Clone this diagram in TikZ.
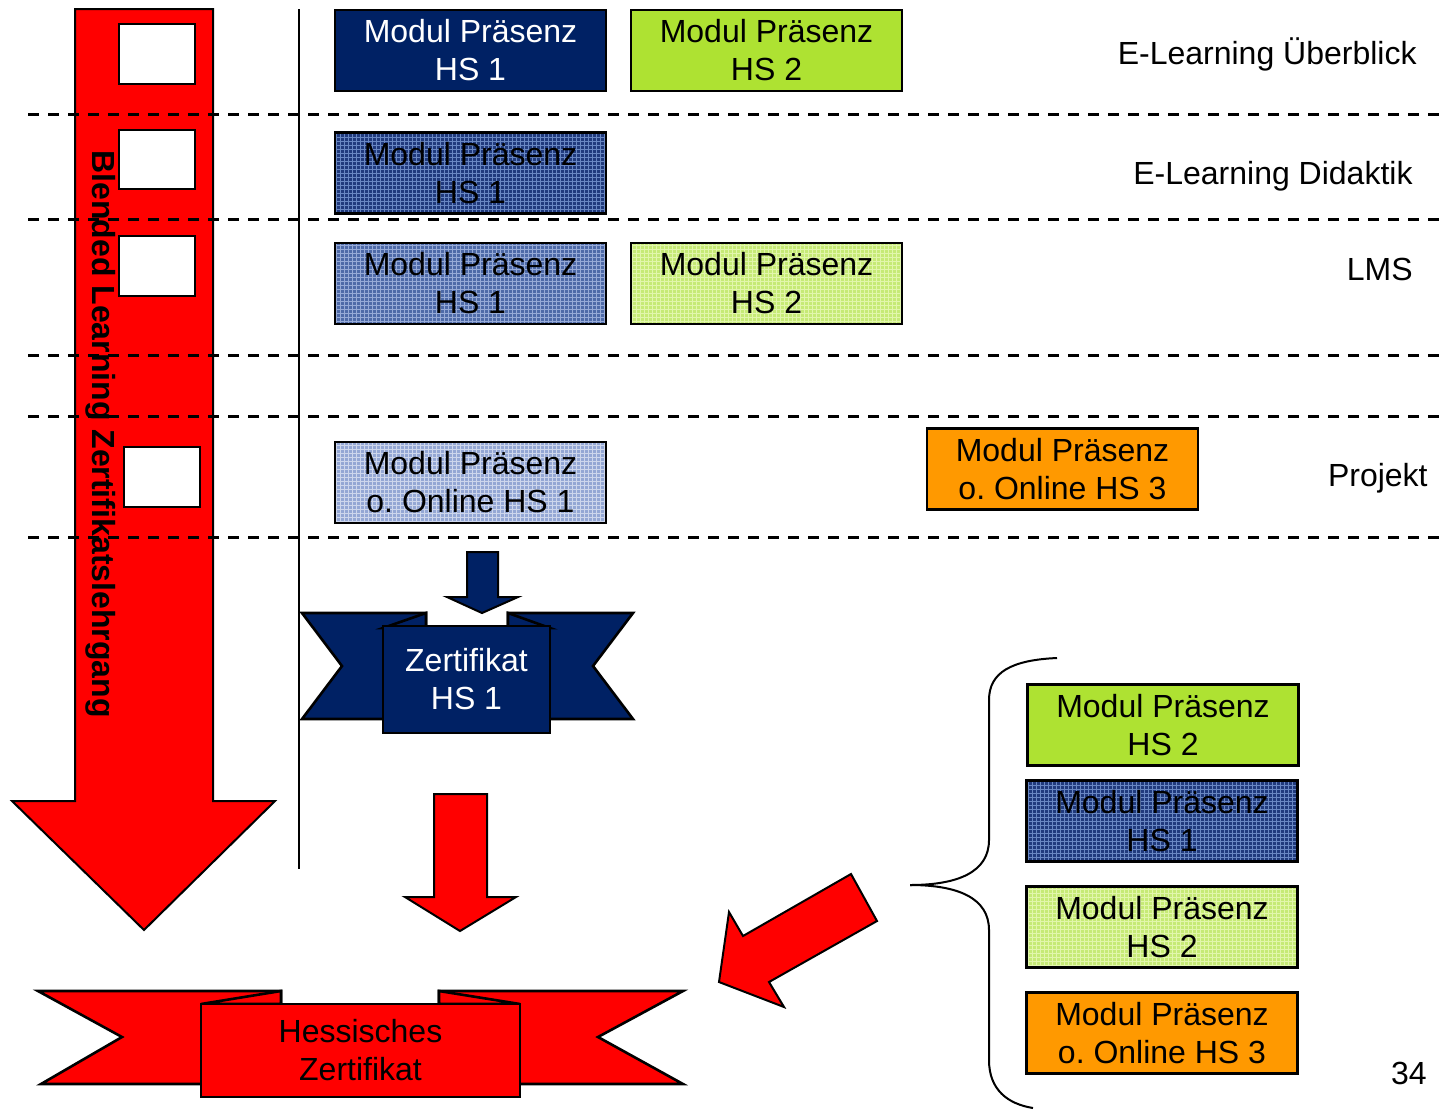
\documentclass[tikz,border=0pt]{standalone}
\usepackage{fontspec}
\setmainfont{Liberation Sans}
\usetikzlibrary{patterns.meta}
\frenchspacing
\definecolor{navy}{RGB}{0,33,100}
\definecolor{lime}{RGB}{174,226,50}
\definecolor{orng}{RGB}{255,153,0}
\definecolor{rd}{RGB}{255,0,0}
\definecolor{cbase}{RGB}{32,58,125}
\definecolor{cline}{RGB}{105,135,195}
\definecolor{dbase}{RGB}{78,106,168}
\definecolor{dline}{RGB}{150,170,215}
\definecolor{ebase}{RGB}{198,234,118}
\definecolor{eline}{RGB}{226,246,172}
\definecolor{fbase}{RGB}{148,167,212}
\definecolor{fline}{RGB}{205,214,236}
\tikzset{
  modbox/.style={draw=black, line width=1.1pt, minimum width=135.5pt, minimum height=40.5pt,
    inner sep=0pt, align=center, font=\fontsize{16}{19}\selectfont\frenchspacing},
  pat/.style 2 args={preaction={fill=#1}, pattern={Hatch[angle=0,distance=2pt,line width=0.45pt]}, pattern color=#2},
  lbl/.style={anchor=east, inner sep=0pt, font=\fontsize{16}{19}\selectfont},
  shp/.style={draw=black, line width=1pt, line join=miter},
  sep/.style={draw=black, line width=1.5pt, dash pattern=on 5.5pt off 4.5pt},
}
\begin{document}
\begin{tikzpicture}[x=0.5pt,y=-0.5pt]
\useasboundingbox (0,0) rectangle (1439,1109);
% big red arrow
\draw[shp, fill=rd] (75,9) -- (213,9) -- (213,801) -- (275,801) -- (144,930) -- (12,801) -- (75,801) -- cycle;
\node[rotate=-90, inner sep=0pt, font=\fontsize{16}{19}\selectfont\bfseries] (bl) at (101,434) {Blended Learning Zertifikatslehrgang};
% white boxes
\draw[shp, fill=white] (119,24) rectangle (195,84);
\draw[shp, fill=white] (119,130) rectangle (195,189);
\draw[shp, fill=white] (119,236) rectangle (195,296);
\draw[shp, fill=white] (124,447) rectangle (200,507);
% dashed separators
\foreach \yy in {114,219,355,416,537} {
  \draw[sep] (28,\yy) -- (1439,\yy);
}
% vertical line
\coordinate (vt) at (299,9);
\coordinate (vb) at (299,869);
\draw[line width=1pt] (vt) -- (vb);
% module boxes
\node[modbox, fill=navy, text=white] (a) at (470.5,50.5) {Modul Präsenz\\HS 1};
\node[modbox, fill=lime] (b) at (766.5,50.5) {Modul Präsenz\\HS 2};
\node[modbox, pat={cbase}{cline}] (c) at (470.5,173) {Modul Präsenz\\HS 1};
\node[modbox, pat={dbase}{dline}] (d) at (470.5,283.5) {Modul Präsenz\\HS 1};
\node[modbox, pat={ebase}{eline}] (e) at (766.5,283.5) {Modul Präsenz\\HS 2};
\node[modbox, pat={fbase}{fline}] (f) at (470.5,482.5) {Modul Präsenz\\o. Online HS 1};
\node[modbox, fill=orng] (g) at (1062.5,469) {Modul Präsenz\\o. Online HS 3};
\node[modbox, fill=lime] (h) at (1163,725) {Modul Präsenz\\HS 2};
\node[modbox, pat={cbase}{cline}] (i) at (1162,821) {Modul Präsenz\\HS 1};
\node[modbox, pat={ebase}{eline}] (j) at (1162,927) {Modul Präsenz\\HS 2};
\node[modbox, fill=orng] (k) at (1162,1033) {Modul Präsenz\\o. Online HS 3};
% row labels
\node[lbl] (l1) at (1417,54) {E-Learning Überblick};
\node[lbl] (l2) at (1413,176) {E-Learning Didaktik};
\node[lbl] (l3) at (1413,269) {LMS};
\node[lbl] (l4) at (1428,478) {Projekt};
\node[lbl] (pg) at (1427,1073) {34};
% navy arrow
\draw[shp, fill=navy] (467,552) -- (498,552) -- (498,597) -- (518,597) -- (482,613) -- (447,597) -- (467,597) -- cycle;
% Zertifikat HS 1 ribbon
\draw[shp, line width=1.3pt, fill=navy] (302,613) -- (426,613) -- (426,719) -- (302,719) -- (342,666) -- cycle;
\draw[shp, line width=1.3pt, fill=navy] (633,613) -- (508,613) -- (508,719) -- (633,719) -- (593,666) -- cycle;
\draw[shp, line width=1.3pt, fill=navy] (383,628) -- (426,613) -- (426,628) -- cycle;
\draw[shp, line width=1.3pt, fill=navy] (550,628) -- (508,613) -- (508,628) -- cycle;
\node[draw=black, line width=1.3pt, fill=navy, text=white, minimum width=83.5pt, minimum height=53.5pt, inner sep=0pt, align=center, font=\fontsize{16}{19}\selectfont] (z1) at (466.5,679.5) {Zertifikat\\HS 1};
% red small arrow
\draw[shp, fill=rd] (434,794) -- (487,794) -- (487,897) -- (516,897) -- (460,931) -- (405,897) -- (434,897) -- cycle;
% Hessisches Zertifikat ribbon
\draw[shp, line width=1.3pt, fill=rd] (38,991) -- (281,991) -- (281,1084) -- (41,1084) -- (122,1037) -- cycle;
\draw[shp, line width=1.3pt, fill=rd] (683,991) -- (439,991) -- (439,1084) -- (683,1084) -- (598,1037) -- cycle;
\draw[shp, line width=1.3pt, fill=rd] (201,1004) -- (281,991) -- (281,1004) -- cycle;
\draw[shp, line width=1.3pt, fill=rd] (520,1004) -- (439,991) -- (439,1004) -- cycle;
\node[draw=black, line width=1.3pt, fill=rd, minimum width=159.5pt, minimum height=46.5pt, inner sep=0pt, align=center, font=\fontsize{16}{19}\selectfont] (hz) at (360.5,1050.5) {\raisebox{-2pt}{\parbox{150pt}{\centering Hessisches\\Zertifikat}}};
% diagonal red arrow
\draw[shp, fill=rd] (851,874) -- (877,921) -- (769,982) -- (784,1007) -- (719,982) -- (729,912) -- (743,936) -- cycle;
% brace
\draw[line width=1pt] (1057,658) .. controls (1012,660) and (989,672) .. (989,700) -- (989,840) .. controls (989,872) and (958,885) .. (910,885);
\draw[line width=1pt] (910,885) .. controls (958,885) and (989,898) .. (989,930) -- (989,1060) .. controls (989,1090) and (1008,1104) .. (1033,1108);
\end{tikzpicture}
\end{document}
